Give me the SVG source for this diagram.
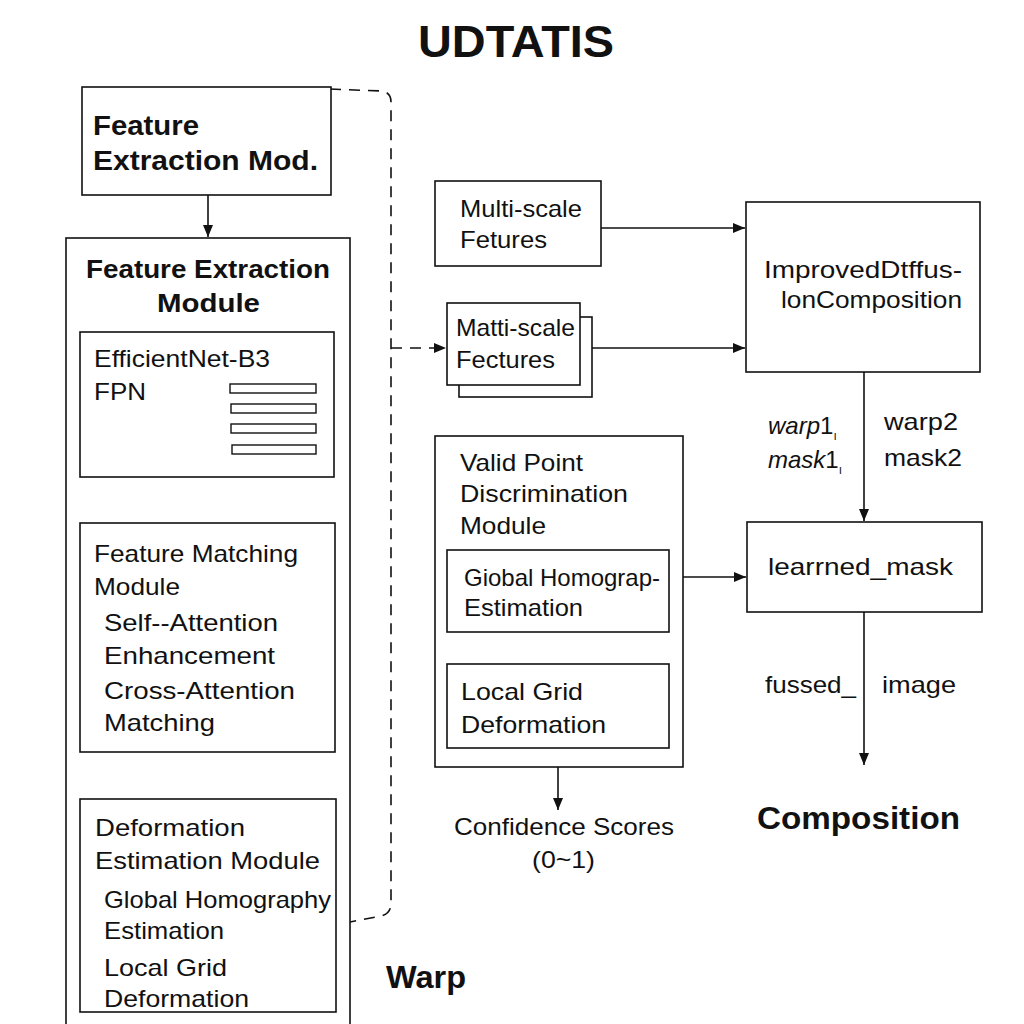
<svg xmlns="http://www.w3.org/2000/svg" width="1024" height="1024" viewBox="0 0 1024 1024">
<defs>
<marker id="ah" viewBox="0 0 12 10" refX="12" refY="5" markerWidth="12" markerHeight="10" markerUnits="userSpaceOnUse" orient="auto">
<path d="M0,0 L12,5 L0,10 z" fill="#111"/>
</marker>
<style>
text{font-family:"Liberation Sans",Arial,sans-serif;fill:#111}
.b{font-weight:bold}
.t{font-size:24px}
.box{fill:#fff;stroke:#111;stroke-width:1.6}
.ln{fill:none;stroke:#111;stroke-width:1.6}
.dash{fill:none;stroke:#111;stroke-width:1.6;stroke-dasharray:11 8}
.bar{fill:#fff;stroke:#111;stroke-width:1.4}
</style>
</defs>
<rect width="1024" height="1024" fill="#fff"/>
<text x="418" y="57" class="b" font-size="45" textLength="196" lengthAdjust="spacingAndGlyphs">UDTATIS</text>

<g id="connectors">
<line class="ln" x1="208" y1="195" x2="208" y2="237" marker-end="url(#ah)"/>
<line class="ln" x1="208" y1="477" x2="208" y2="522" marker-end="url(#ah)"/>
<line class="ln" x1="208" y1="752" x2="208" y2="798" marker-end="url(#ah)"/>
<path class="dash" d="M330,89 L381,91 Q391,92 391,102 L391,903 Q391,914 381,916 L350,922"/>
<line class="dash" x1="391" y1="348" x2="446" y2="348" marker-end="url(#ah)"/>
<line class="ln" x1="601" y1="228" x2="745" y2="228" marker-end="url(#ah)"/>
<line class="ln" x1="592" y1="348" x2="745" y2="348" marker-end="url(#ah)"/>
<line class="ln" x1="864" y1="372" x2="864" y2="521" marker-end="url(#ah)"/>
<line class="ln" x1="683" y1="577" x2="746" y2="577" marker-end="url(#ah)"/>
<line class="ln" x1="864" y1="612" x2="864" y2="765" marker-end="url(#ah)"/>
<line class="ln" x1="558" y1="767" x2="558" y2="810" marker-end="url(#ah)"/>
</g>

<g id="fe-mod">
<rect class="box" x="82" y="87" width="249" height="108"/>
<text x="93" y="135" class="b" font-size="27" textLength="106" lengthAdjust="spacingAndGlyphs">Feature</text>
<text x="93" y="170" class="b" font-size="27" textLength="225" lengthAdjust="spacingAndGlyphs">Extraction Mod.</text>
</g>

<g id="fe-module">
<rect class="box" x="66" y="238" width="284" height="800"/>
<text x="86" y="278" class="b" font-size="25" textLength="244" lengthAdjust="spacingAndGlyphs">Feature Extraction</text>
<text x="157" y="312" class="b" font-size="25" textLength="103" lengthAdjust="spacingAndGlyphs">Module</text>
</g>

<g id="efficientnet">
<rect class="box" x="80" y="332" width="254" height="145"/>
<text x="94" y="367" class="t" textLength="176" lengthAdjust="spacingAndGlyphs">EfficientNet-B3</text>
<text x="94" y="400" class="t" textLength="52" lengthAdjust="spacingAndGlyphs">FPN</text>
<rect class="bar" x="230" y="384" width="86" height="9"/>
<rect class="bar" x="231" y="404" width="85" height="9"/>
<rect class="bar" x="231" y="424" width="85" height="9"/>
<rect class="bar" x="232" y="445" width="84" height="9"/>
</g>

<g id="matching">
<rect class="box" x="80" y="523" width="255" height="229"/>
<text x="94" y="562" class="t" textLength="204" lengthAdjust="spacingAndGlyphs">Feature Matching</text>
<text x="94" y="595" class="t" textLength="86" lengthAdjust="spacingAndGlyphs">Module</text>
<text x="104" y="631" class="t" textLength="174" lengthAdjust="spacingAndGlyphs">Self--Attention</text>
<text x="104" y="664" class="t" textLength="171" lengthAdjust="spacingAndGlyphs">Enhancement</text>
<text x="104" y="699" class="t" textLength="191" lengthAdjust="spacingAndGlyphs">Cross-Attention</text>
<text x="104" y="731" class="t" textLength="111" lengthAdjust="spacingAndGlyphs">Matching</text>
</g>

<g id="deformation">
<rect class="box" x="80" y="799" width="256" height="213"/>
<text x="95" y="836" class="t" textLength="150" lengthAdjust="spacingAndGlyphs">Deformation</text>
<text x="95" y="869" class="t" textLength="225" lengthAdjust="spacingAndGlyphs">Estimation Module</text>
<text x="104" y="908" class="t" textLength="227" lengthAdjust="spacingAndGlyphs">Global Homography</text>
<text x="104" y="939" class="t" textLength="120" lengthAdjust="spacingAndGlyphs">Estimation</text>
<text x="104" y="976" class="t" textLength="123" lengthAdjust="spacingAndGlyphs">Local Grid</text>
<text x="104" y="1007" class="t" textLength="145" lengthAdjust="spacingAndGlyphs">Deformation</text>
</g>

<text x="386" y="988" class="b" font-size="31" textLength="80" lengthAdjust="spacingAndGlyphs">Warp</text>

<g id="multi-scale">
<rect class="box" x="435" y="181" width="166" height="85"/>
<text x="460" y="217" class="t" textLength="122" lengthAdjust="spacingAndGlyphs">Multi-scale</text>
<text x="460" y="248" class="t" textLength="87" lengthAdjust="spacingAndGlyphs">Fetures</text>
</g>

<g id="matti-scale">
<rect class="box" x="459" y="317" width="133" height="80"/>
<rect class="box" x="447" y="303" width="133" height="82"/>
<text x="456" y="336" class="t" textLength="119" lengthAdjust="spacingAndGlyphs">Matti-scale</text>
<text x="456" y="368" class="t" textLength="99" lengthAdjust="spacingAndGlyphs">Fectures</text>
</g>

<g id="diffusion">
<rect class="box" x="746" y="202" width="234" height="170"/>
<text x="764" y="278" class="t" textLength="198" lengthAdjust="spacingAndGlyphs">ImprovedDtffus-</text>
<text x="781" y="308" class="t" textLength="181" lengthAdjust="spacingAndGlyphs">lonComposition</text>
</g>

<g id="edge-labels">
<text x="768" y="434" class="t" font-style="italic">warp<tspan font-style="normal">1</tspan><tspan font-size="12" dy="6" font-style="normal">ı</tspan></text>
<text x="768" y="468" class="t" font-style="italic">mask<tspan font-style="normal">1</tspan><tspan font-size="12" dy="6" font-style="normal">ı</tspan></text>
<text x="884" y="430" class="t" textLength="74" lengthAdjust="spacingAndGlyphs">warp2</text>
<text x="884" y="466" class="t" textLength="78" lengthAdjust="spacingAndGlyphs">mask2</text>
<text x="765" y="693" class="t" textLength="91" lengthAdjust="spacingAndGlyphs">fussed_</text>
<text x="882" y="693" class="t" textLength="74" lengthAdjust="spacingAndGlyphs">image</text>
</g>

<g id="learned-mask">
<rect class="box" x="747" y="522" width="235" height="90"/>
<text x="768" y="575" class="t" textLength="185" lengthAdjust="spacingAndGlyphs">learrned_mask</text>
</g>

<text x="757" y="829" class="b" font-size="31" textLength="203" lengthAdjust="spacingAndGlyphs">Composition</text>

<g id="valid-point">
<rect class="box" x="435" y="436" width="248" height="331"/>
<text x="460" y="471" class="t" textLength="123" lengthAdjust="spacingAndGlyphs">Valid Point</text>
<text x="460" y="502" class="t" textLength="168" lengthAdjust="spacingAndGlyphs">Discrimination</text>
<text x="460" y="534" class="t" textLength="86" lengthAdjust="spacingAndGlyphs">Module</text>
<rect class="box" x="447" y="550" width="222" height="82"/>
<text x="464" y="586" class="t" textLength="196" lengthAdjust="spacingAndGlyphs">Giobal Homograp-</text>
<text x="464" y="616" class="t" textLength="119" lengthAdjust="spacingAndGlyphs">Estimation</text>
<rect class="box" x="447" y="664" width="222" height="84"/>
<text x="461" y="700" class="t" textLength="122" lengthAdjust="spacingAndGlyphs">Local Grid</text>
<text x="461" y="733" class="t" textLength="145" lengthAdjust="spacingAndGlyphs">Deformation</text>
</g>

<g id="confidence">
<text x="454" y="835" class="t" textLength="220" lengthAdjust="spacingAndGlyphs">Confidence Scores</text>
<text x="532" y="868" class="t" textLength="63" lengthAdjust="spacingAndGlyphs">(0~1)</text>
</g>
</svg>
